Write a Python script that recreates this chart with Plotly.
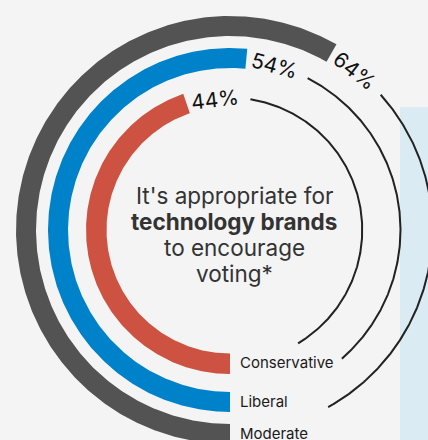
import numpy as np
import plotly.graph_objects as go

# ---- data ----
groups = ["Conservative", "Liberal", "Moderate"]
values = [44, 54, 64]
value_labels = ["44%", "54%", "64%"]
center_lines = ["It's appropriate for", "technology brands", "to encourage", "voting*"]

# ---- style / layout constants ----
colors = ["#cd5241", "#0082ca", "#535353"]
W, H = 428, 440
CX, CY = 230, 230          # centre of the dial in px (from top-left)
ring_inner = [123.5, 162, 194]
ring_width = [20.5, 20, 20]
track_end = [329, 319, 331]  # where the thin tracks stop (deg from bottom, clockwise)
center_y = [195, 221.5, 247.5, 273.5]
center_weight = [400, 700, 400, 400]
FONT = "Inter"

# angular scale of the dial (value -> degrees swept from the bottom, clockwise)
DEG_PER_PCT = 2.44
ZERO_PCT = -22.0


def sweep(v):
    return (v - ZERO_PCT) * DEG_PER_PCT


def to_xy(r, theta_deg):
    """dial coords (radius, degrees clockwise from the bottom) -> axis coords"""
    t = np.radians(theta_deg)
    return -r * np.sin(t), -r * np.cos(t)


fig = go.Figure()
annotations = []

for i, g in enumerate(groups):
    s = sweep(values[i])
    th = np.linspace(0, s, 400)
    r_in = np.full(th.shape, ring_inner[i])
    r_out = np.full(th.shape, ring_inner[i] + ring_width[i])
    xi, yi = to_xy(r_in, th)
    xo, yo = to_xy(r_out, th)
    fig.add_trace(go.Scatter(
        x=np.concatenate([xi, xo[::-1], xi[:1]]),
        y=np.concatenate([yi, yo[::-1], yi[:1]]),
        mode="lines", fill="toself", fillcolor=colors[i],
        line=dict(width=0, color=colors[i]),
        name=g, hoverinfo="skip", showlegend=False,
    ))

    rmid = ring_inner[i] + ring_width[i] / 2
    lab_theta = s + np.degrees(29 / rmid)
    start = lab_theta + np.degrees(36 / rmid)
    tt = np.linspace(start, track_end[i], 300)
    xt, yt = to_xy(np.full(tt.shape, rmid - 1.5), tt)
    fig.add_trace(go.Scatter(
        x=xt, y=yt, mode="lines",
        line=dict(color="#222222", width=2),
        hoverinfo="skip", showlegend=False,
    ))

    lx, ly = to_xy(rmid - 2, lab_theta)
    ang = (lab_theta + 180 + 180) % 360 - 180
    annotations.append(dict(
        x=lx, y=ly, xref="x", yref="y",
        text=value_labels[i], showarrow=False, textangle=ang,
        xanchor="center", yanchor="middle",
        font=dict(family=FONT, size=21, color="#111111"),
    ))
    annotations.append(dict(
        x=8, y=-(rmid - 1), xref="x", yref="y",
        text=g, showarrow=False, xanchor="left", yanchor="middle",
        font=dict(family=FONT, size=15, color="#1a1a1a"),
    ))

for line, yy, wt in zip(center_lines, center_y, center_weight):
    annotations.append(dict(
        x=4, y=CY - yy, xref="x", yref="y",
        text=line, showarrow=False, xanchor="center", yanchor="middle",
        font=dict(family=FONT, size=22.5, color="#333333", weight=wt),
    ))

fig.update_layout(
    width=W, height=H,
    margin=dict(l=0, r=0, t=0, b=0),
    paper_bgcolor="#f4f4f4",
    plot_bgcolor="rgba(0,0,0,0)",
    xaxis=dict(range=[-CX, W - CX], visible=False, domain=[0, 1], fixedrange=True),
    yaxis=dict(range=[-(H - CY), CY], visible=False, domain=[0, 1], fixedrange=True),
    shapes=[dict(type="rect", xref="paper", yref="paper",
                 x0=400 / W, x1=1, y0=0, y1=1 - 107 / H,
                 fillcolor="#dbebf3", line=dict(width=0), layer="below")],
    annotations=annotations,
)

fig.write_html("out.html")
